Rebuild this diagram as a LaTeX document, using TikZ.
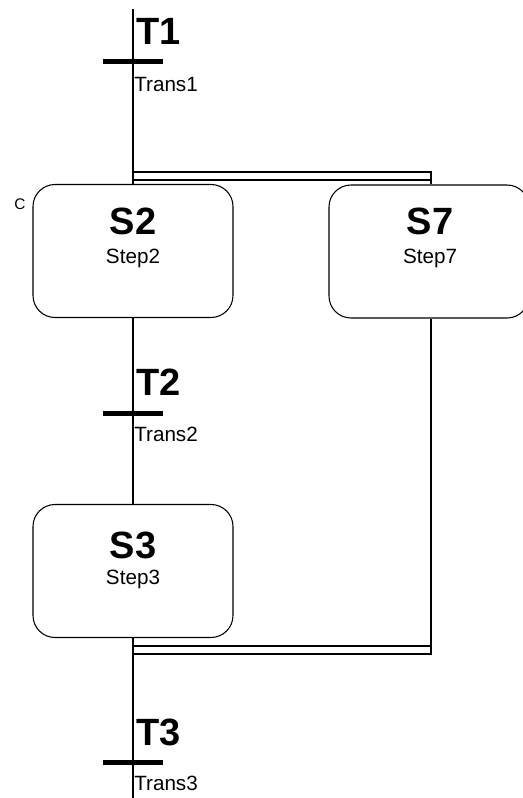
\documentclass[tikz,border=0pt]{standalone}
\usepackage{fontspec}
\setmainfont{Liberation Sans}
\begin{document}
\begin{tikzpicture}[x=0.75pt,y=-0.75pt,
  line/.style={line width=0.8pt,black},
  stepbox/.style={draw,line width=0.8pt,rounded corners=16.5pt,minimum width=150pt,minimum height=99.75pt,inner sep=0pt},
  bar/.style={line width=3.75pt,black},
  big/.style={font=\fontsize{28.5}{28.5}\bfseries\selectfont,inner sep=0pt},
  small/.style={font=\fontsize{15.5}{15.5}\selectfont,inner sep=0pt}]
\useasboundingbox (0,0) rectangle (523,798);
\begin{scope}
\clip (0,0) rectangle (523,798);
% step boxes
\node[stepbox] (s2) at (133,251) {};
\node[stepbox] (s7) at (429,251.5) {};
\node[stepbox] (s3) at (133,571) {};
% texts in boxes
\node[big,anchor=base] (s2t) at (133,235) {S2};
\node[small,anchor=base] (s2s) at (133,263) {Step2};
\node[big,anchor=base] (s7t) at (430,235) {S7};
\node[small,anchor=base] (s7s) at (430,263) {Step7};
\node[big,anchor=base] (s3t) at (133,558) {S3};
\node[small,anchor=base] (s3s) at (133,584) {Step3};
\node[font=\fontsize{11.5}{11.5}\selectfont,inner sep=0pt] (c) at (20,204) {C};
% coordinates
\coordinate (top) at (133,9);
\coordinate (bot) at (133,798);
\coordinate (d1a) at (133,172);
\coordinate (d1b) at (431,172);
\coordinate (d1c) at (133,180);
\coordinate (d1d) at (431,180);
\coordinate (d2a) at (133,646);
\coordinate (d2b) at (431,646);
\coordinate (d2c) at (133,654);
\coordinate (d2d) at (431,654);
% transitions
\coordinate (t1) at (133,62);
\coordinate (t2) at (133,413);
\coordinate (t3) at (133,762);
\draw[bar] ([xshift=-22.5pt]t1) -- ([xshift=22.5pt]t1);
\draw[bar] ([xshift=-22.5pt]t2) -- ([xshift=22.5pt]t2);
\draw[bar] ([xshift=-22.5pt]t3) -- ([xshift=22.5pt]t3);
\node[big,anchor=base west] (t1l) at (136,45) {T1};
\node[small,anchor=base west] (t1s) at (134,92) {Trans1};
\node[big,anchor=base west] (t2l) at (136,395) {T2};
\node[small,anchor=base west] (t2s) at (134,441) {Trans2};
\node[big,anchor=base west] (t3l) at (136,745) {T3};
\node[small,anchor=base west] (t3s) at (134,790) {Trans3};
% connectors
\draw[line] (top) -- (s2.north);
\draw[line] (d1a) -- (d1b) -- (s7.north -| d1b);
\draw[line] (d1c) -- (d1d);
\draw[line] (s2.south) -- (s3.north);
\draw[line] (s3.south) -- (bot);
\draw[line] (s7.south -| d2b) -- (d2d) -- (d2c);
\draw[line] (d2a) -- (d2b);
\end{scope}
\end{tikzpicture}
\end{document}
